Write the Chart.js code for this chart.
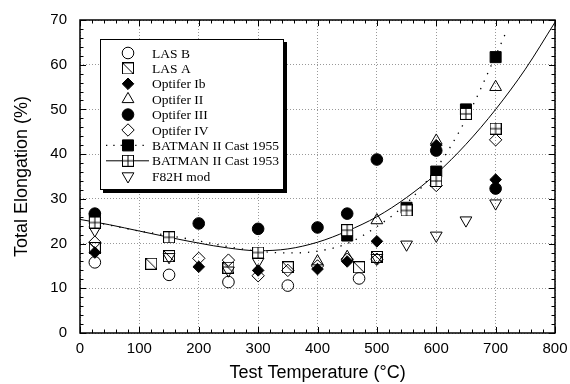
<!DOCTYPE html>
<html>
<head>
<meta charset="utf-8">
<script src="https://cdn.jsdelivr.net/npm/chart.js@4.4.1/dist/chart.umd.min.js"></script>
<style>
  html, body { margin: 0; padding: 0; background: #fff; }
</style>
</head>
<body>
<canvas id="chart" width="570" height="384"></canvas>
<script>
let lasBTemp = [25, 150, 250, 350, 470];
let lasBElong = [15.8, 13, 11.4, 10.6, 12.2];

let lasATemp = [25, 120, 150, 250, 350, 470, 500];
let lasAElong = [19, 15.5, 17.2, 14.6, 14.7, 14.7, 17];

let opt1bTemp = [25, 200, 300, 400, 450, 500, 600, 700];
let opt1bElong = [18, 14.8, 14, 14.3, 16, 20.5, 42, 34.3];

let opt2Temp = [400, 450, 500, 600, 700];
let opt2Elong = [16, 17, 25.2, 43, 55];

let opt3Temp = [25, 200, 300, 400, 450, 500, 600, 700];
let opt3Elong = [26.7, 24.5, 23.3, 23.6, 26.7, 38.8, 40.8, 32.3];

let opt4Temp = [25, 200, 250, 300, 350, 400, 450, 500, 600, 700];
let opt4Elong = [20.3, 16.7, 16.3, 12.8, 14, 15, 16.5, 16.5, 33, 43.2];

let bat55Temp = [25, 450, 550, 600, 650, 700];
let bat55Elong = [25.6, 21.8, 28, 36.1, 50, 61.7];

let bat53Temp = [25, 150, 300, 450, 550, 600, 650, 700];
let bat53Elong = [24.7, 21.4, 18, 23, 27.4, 34, 49, 45.7];

let f82Temp = [25, 150, 250, 300, 500, 550, 600, 650, 700];
let f82Elong = [23, 17, 14, 16, 16.8, 19.8, 21.8, 25.2, 29];

// fit curves
let fit55Temp = [25, 100, 150, 200, 250, 300, 350, 400, 450, 500, 550, 600, 650, 700, 720];
let fit55Elong = [24.8, 22.8, 21.8, 20.6, 19.3, 18.3, 17.9, 18.3, 20, 23.8, 29, 36.8, 47.8, 62, 68];

let fit53Temp = [0, 50, 100, 150, 200, 250, 300, 350, 400, 450, 500, 550, 600, 650, 700, 750, 800];
let fit53Elong = [25.4, 24.2, 22.8, 21.4, 20.1, 19, 18.4, 18.8, 20.3, 22.8, 26, 30.3, 35.6, 42.2, 50, 59, 69.5];

let xTicks = [0, 100, 200, 300, 400, 500, 600, 700, 800];
let yTicks = [0, 10, 20, 30, 40, 50, 60, 70];

function pts(xs, ys) {
    return xs.map((x, i) => ({x: x, y: ys[i]}));
}

// little canvases for the marker shapes chart.js doesn't have
function makeMarker(size, draw) {
    let c = document.createElement('canvas');
    c.width = size;
    c.height = size;
    let g = c.getContext('2d');
    g.strokeStyle = '#000';
    g.lineWidth = 1;
    draw(g, size);
    return c;
}

let squareDiag = makeMarker(12, (g, s) => {
    g.strokeRect(0.5, 0.5, s - 1, s - 1);
    g.beginPath();
    g.moveTo(0.5, 0.5);
    g.lineTo(s - 0.5, s - 0.5);
    g.stroke();
});

let squarePlus = makeMarker(12, (g, s) => {
    g.fillStyle = '#fff';
    g.fillRect(0, 0, s, s);
    g.strokeRect(0.5, 0.5, s - 1, s - 1);
    g.beginPath();
    g.moveTo(s / 2, 0.5);
    g.lineTo(s / 2, s - 0.5);
    g.moveTo(0.5, s / 2);
    g.lineTo(s - 0.5, s / 2);
    g.stroke();
});

function marker(label, data, style, fill, radius, extra) {
    return Object.assign({
        label: label,
        data: data,
        pointStyle: style,
        pointRadius: radius,
        pointHoverRadius: radius,
        pointBackgroundColor: fill,
        pointBorderColor: '#000',
        pointBorderWidth: 1,
        showLine: false
    }, extra || {});
}

let datasets = [
    marker('LAS B', pts(lasBTemp, lasBElong), 'circle', 'rgba(0,0,0,0)', 5.8),
    marker('LAS A', pts(lasATemp, lasAElong), squareDiag, 'rgba(0,0,0,0)', 6),
    marker('Optifer Ib', pts(opt1bTemp, opt1bElong), 'rectRot', '#000', 5.8),
    marker('Optifer II', pts(opt2Temp, opt2Elong), 'triangle', 'rgba(0,0,0,0)', 6.8),
    marker('Optifer III', pts(opt3Temp, opt3Elong), 'circle', '#000', 5.8),
    marker('Optifer IV', pts(opt4Temp, opt4Elong), 'rectRot', 'rgba(0,0,0,0)', 6.2),
    marker('BATMAN II Cast 1955', pts(bat55Temp, bat55Elong), 'rect', '#000', 7.8),
    marker('BATMAN II Cast 1953', pts(bat53Temp, bat53Elong), squarePlus, '#fff', 6, {order: -1}),
    marker('F82H mod', pts(f82Temp, f82Elong), 'triangle', 'rgba(0,0,0,0)', 6.8, {rotation: 180}),
    {
        label: 'fit 1955',
        data: pts(fit55Temp, fit55Elong),
        showLine: true,
        pointRadius: 0,
        borderColor: '#000',
        borderWidth: 1.3,
        borderDash: [1.3, 7],
        cubicInterpolationMode: 'monotone',
        order: 10
    },
    {
        label: 'fit 1953',
        data: pts(fit53Temp, fit53Elong),
        showLine: true,
        pointRadius: 0,
        borderColor: '#000',
        borderWidth: 1,
        cubicInterpolationMode: 'monotone',
        order: 10
    }
];

// frame + inward ticks on all four sides
let framePlugin = {
    id: 'frame',
    afterDatasetsDraw(chart) {
        let ctx = chart.ctx;
        let a = chart.chartArea;
        let xs = chart.scales.x, ys = chart.scales.y;
        ctx.save();
        ctx.strokeStyle = '#000';
        ctx.lineWidth = 1;
        ctx.beginPath();
        for (let t = 0; t <= 800; t += 20) {
            let px = Math.round(xs.getPixelForValue(t)) + 0.5;
            let len = t % 100 === 0 ? 6 : 3.5;
            ctx.moveTo(px, a.bottom); ctx.lineTo(px, a.bottom - len);
            ctx.moveTo(px, a.top); ctx.lineTo(px, a.top + len);
        }
        for (let v = 0; v <= 70; v += 2) {
            let py = Math.round(ys.getPixelForValue(v)) + 0.5;
            let len = v % 10 === 0 ? 6 : 3.5;
            ctx.moveTo(a.left, py); ctx.lineTo(a.left + len, py);
            ctx.moveTo(a.right, py); ctx.lineTo(a.right - len, py);
        }
        ctx.stroke();
        ctx.lineWidth = 1.5;
        ctx.strokeRect(a.left, a.top, a.right - a.left, a.bottom - a.top);
        ctx.restore();
    }
};

// the boxed legend with a drop shadow, inside the plot
let legendPlugin = {
    id: 'boxLegend',
    afterDraw(chart) {
        let ctx = chart.ctx;
        let bx = 100, by = 39, bw = 183, bh = 150;
        ctx.save();
        ctx.fillStyle = '#000';
        ctx.fillRect(bx + 3, by + 3, bw + 1, bh + 1);
        ctx.fillStyle = '#fff';
        ctx.fillRect(bx, by, bw, bh);
        ctx.strokeStyle = '#000';
        ctx.lineWidth = 1;
        ctx.strokeRect(bx + 0.5, by + 0.5, bw, bh);

        let mx = 128, tx = 152, y0 = 53, step = 15.4;
        ctx.font = '13.5px "Liberation Serif", "Times New Roman", serif';
        ctx.textBaseline = 'middle';
        for (let i = 0; i < 9; i++) {
            let ds = chart.data.datasets[i];
            let y = y0 + i * step;
            if (i === 6 || i === 7) {
                ctx.save();
                ctx.strokeStyle = '#000';
                ctx.lineWidth = i === 6 ? 1.3 : 1;
                ctx.setLineDash(i === 6 ? [1.3, 6] : []);
                ctx.beginPath();
                ctx.moveTo(106, y);
                ctx.lineTo(149, y);
                ctx.stroke();
                ctx.restore();
            }
            ctx.save();
            ctx.strokeStyle = '#000';
            ctx.fillStyle = ds.pointBackgroundColor;
            ctx.lineWidth = 1;
            Chart.helpers.drawPoint(ctx, {
                pointStyle: ds.pointStyle,
                rotation: ds.rotation || 0,
                radius: ds.pointRadius,
                borderWidth: 1
            }, mx, y);
            ctx.restore();
            ctx.fillStyle = '#000';
            ctx.fillText(ds.label, tx, y + 1);
        }
        ctx.restore();
    }
};

let chart = new Chart(document.getElementById('chart'), {
    type: 'scatter',
    data: { datasets: datasets },
    options: {
        responsive: false,
        animation: false,
        events: [],
        layout: { padding: { top: 20, right: 15, left: 0, bottom: 0 } },
        plugins: { legend: { display: false }, tooltip: { enabled: false } },
        scales: {
            x: {
                type: 'linear',
                min: 0, max: 800,
                afterBuildTicks(scale) { scale.ticks = xTicks.map(v => ({value: v})); },
                afterFit(scale) {
                    scale.height = 51;
                    scale.paddingLeft = 0;
                    scale.paddingRight = 0;
                },
                grid: { color: '#999', drawTicks: false, lineWidth: 1 },
                border: { display: false, dash: [1, 2] },
                ticks: {
                    color: '#000', padding: 7,
                    font: { family: '"Liberation Sans", Arial, sans-serif', size: 15 }
                },
                title: {
                    display: true, text: 'Test Temperature (°C)', color: '#000',
                    padding: { top: 6, bottom: 0 },
                    font: { family: '"Liberation Sans", Arial, sans-serif', size: 18 }
                }
            },
            y: {
                type: 'linear',
                min: 0, max: 70,
                afterBuildTicks(scale) { scale.ticks = yTicks.map(v => ({value: v})); },
                afterFit(scale) {
                    scale.width = 80;
                    scale.paddingTop = 0;
                    scale.paddingBottom = 0;
                },
                grid: { color: '#999', drawTicks: false, lineWidth: 1 },
                border: { display: false, dash: [1, 2] },
                ticks: {
                    color: '#000', padding: 13,
                    font: { family: '"Liberation Sans", Arial, sans-serif', size: 15 }
                },
                title: {
                    display: true, text: 'Total Elongation (%)', color: '#000',
                    padding: { top: 11, bottom: 0 },
                    font: { family: '"Liberation Sans", Arial, sans-serif', size: 18 }
                }
            }
        }
    },
    plugins: [framePlugin, legendPlugin]
});
</script>
</body>
</html>
